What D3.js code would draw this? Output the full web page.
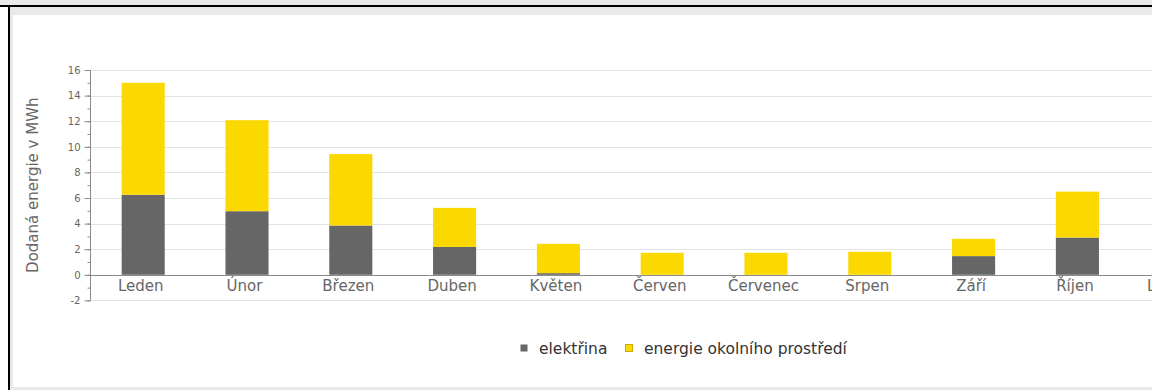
<!DOCTYPE html>
<html>
<head>
<meta charset="utf-8">
<script src="https://cdn.jsdelivr.net/npm/d3@7"></script>
<style>
  html, body { margin: 0; padding: 0; background: #e9e9e9; overflow: hidden; }
  svg { display: block; font-family: "DejaVu Sans", sans-serif; }
</style>
</head>
<body>
<svg id="chart" width="1152" height="390"></svg>
<script>
// months (Listopad and Prosinec fall outside the visible frame)
const months = ["Leden", "Únor", "Březen", "Duben", "Květen", "Červen", "Červenec", "Srpen", "Září", "Říjen", "Listopad", "Prosinec"];
// delivered energy in MWh
const elektrina = [6.25, 4.97, 3.85, 2.18, 0.13, 0, 0, 0, 1.46, 2.91, 4.6, 5.9];
const okoli = [8.75, 7.11, 5.58, 3.05, 2.29, 1.72, 1.72, 1.8, 1.35, 3.59, 6.0, 8.0];
const yTicks = [-2, 0, 2, 4, 6, 8, 10, 12, 14, 16];
const seriesNames = ["elektřina", "energie okolního prostředí"];
const colors = ["#666666", "#fbd800"];

const svg = d3.select("#chart");

// frame round the chart panel
svg.append("rect").attr("x", 0).attr("y", 0).attr("width", 1152).attr("height", 390).attr("fill", "#e9e9e9");
svg.append("rect").attr("x", 0).attr("y", 7).attr("width", 10).attr("height", 383).attr("fill", "#fff");
svg.append("rect").attr("x", 0).attr("y", 5).attr("width", 1152).attr("height", 2).attr("fill", "#000");
svg.append("rect").attr("x", 8).attr("y", 5).attr("width", 2).attr("height", 385).attr("fill", "#000");
svg.append("rect").attr("x", 13).attr("y", 15).attr("width", 1139).attr("height", 372).attr("fill", "#fff");

const plotLeft = 90, plotTop = 70, step = 103.8;
const padIn = 0.585, padOut = 0.305;
const plotWidth = step * (months.length - padIn + 2 * padOut);

const x = d3.scaleBand().domain(months).range([plotLeft, plotLeft + plotWidth]).paddingInner(padIn).paddingOuter(padOut);
const y = d3.scaleLinear().domain([-2, 16]).range([plotTop + 230.4, plotTop]);

// gridlines
svg.append("g").selectAll("line").data(yTicks).join("line")
  .attr("x1", plotLeft).attr("x2", 1152)
  .attr("y1", d => Math.round(y(d)) + 0.5).attr("y2", d => Math.round(y(d)) + 0.5)
  .attr("stroke", d => d === 0 ? "#8a8a8a" : "#e4e4e4")
  .attr("stroke-width", 1);

// stacked bars
const rows = months.map((m, i) => ({ month: m, elektrina: elektrina[i], okoli: okoli[i] }));
const stack = d3.stack().keys(["elektrina", "okoli"])(rows);

svg.append("g").selectAll("g").data(stack).join("g")
  .attr("fill", (d, i) => colors[i])
  .selectAll("rect").data(d => d).join("rect")
  .attr("x", d => x(d.data.month))
  .attr("width", x.bandwidth())
  .attr("y", d => y(d[1]))
  .attr("height", d => y(d[0]) - y(d[1]));

// redraw zero line above bars
svg.append("line")
  .attr("x1", plotLeft).attr("x2", 1152)
  .attr("y1", Math.round(y(0)) + 0.5).attr("y2", Math.round(y(0)) + 0.5)
  .attr("stroke", "#8a8a8a");

// y axis with minor ticks
const yAxis = svg.append("g").attr("transform", `translate(${plotLeft + 0.5},0)`);
yAxis.call(d3.axisLeft(y).tickValues(d3.range(-2, 17, 1)).tickSize(3).tickFormat(""))
  .call(g => g.select(".domain").remove())
  .call(g => g.selectAll("line").attr("stroke", "#8a8a8a"));
yAxis.append("line").attr("y1", y(16)).attr("y2", y(-2)).attr("stroke", "#8a8a8a");
yAxis.append("g").call(d3.axisLeft(y).tickValues(yTicks).tickSize(6).tickPadding(4).tickFormat(d => String(d)))
  .call(g => g.select(".domain").remove())
  .call(g => g.selectAll("line").attr("stroke", "#8a8a8a"))
  .call(g => g.selectAll("text").attr("fill", "#666").style("font-size", "10px").style("font-family", "DejaVu Sans"));

// x labels (sit a little left of the bar centres, as in the original)
svg.append("g").selectAll("text").data(months).join("text")
  .attr("x", d => x(d) + x.bandwidth() / 2 - 2.5)
  .attr("y", 291)
  .attr("text-anchor", "middle")
  .attr("fill", "#666")
  .style("font-size", "15px")
  .text(d => d);

// y title
svg.append("text")
  .attr("transform", `translate(38,${y(7)}) rotate(-90)`)
  .attr("text-anchor", "middle")
  .attr("fill", "#666")
  .style("font-size", "15px")
  .text("Dodaná energie v MWh");

// legend
const legendX = [520, 625];
const legend = svg.append("g").selectAll("g").data(seriesNames).join("g")
  .attr("transform", (d, i) => `translate(${legendX[i]},344)`);
legend.append("rect")
  .attr("x", 0.5).attr("y", 0.5).attr("width", 7).attr("height", 7)
  .attr("fill", (d, i) => colors[i])
  .attr("stroke", (d, i) => i === 0 ? "none" : "#c9ad00");
legend.append("text")
  .attr("x", 19).attr("y", 9.5)
  .attr("fill", "#333")
  .style("font-size", "15.5px")
  .text(d => d);
</script>
</body>
</html>
